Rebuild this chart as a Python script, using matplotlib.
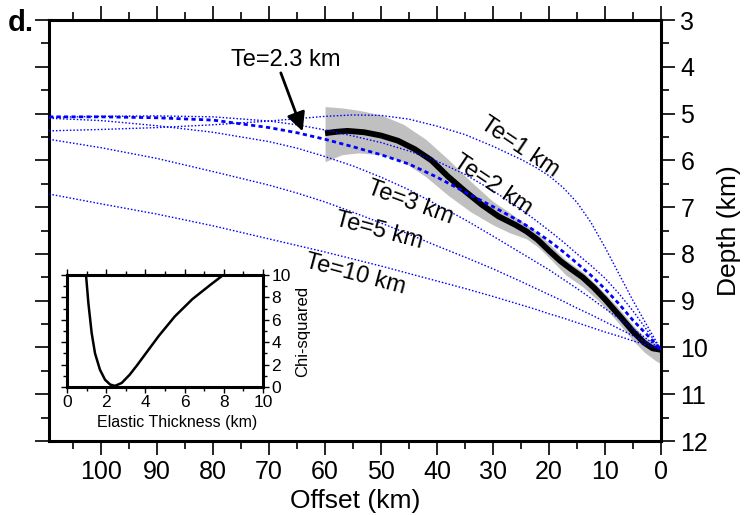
import matplotlib
matplotlib.use('Agg')
import matplotlib.pyplot as plt
from matplotlib.ticker import MultipleLocator

plt.rcParams['font.family'] = ['Liberation Sans', 'DejaVu Sans']

# ---------------- data ----------------
model_offset = [109.3, 100, 90, 80, 70, 65, 60, 55, 50, 45, 40, 35, 30, 25, 22.5, 20, 17.5, 15, 12.5, 10, 7.5, 5, 2.5, 0]
te1_depth = [5.37, 5.34, 5.30, 5.24, 5.16, 5.11, 5.06, 5.03, 5.04, 5.12, 5.27, 5.45, 5.70, 5.98, 6.14, 6.33, 6.58, 6.90, 7.33, 7.86, 8.43, 9.00, 9.53, 10.05]
te2_depth = [5.08, 5.06, 5.05, 5.07, 5.16, 5.24, 5.35, 5.48, 5.62, 5.80, 6.02, 6.30, 6.65, 7.05, 7.27, 7.50, 7.74, 8.00, 8.25, 8.52, 8.85, 9.22, 9.63, 10.05]
te23_depth = [5.07, 5.07, 5.09, 5.14, 5.30, 5.41, 5.55, 5.71, 5.88, 6.08, 6.36, 6.68, 6.99, 7.32, 7.51, 7.72, 7.95, 8.20, 8.46, 8.75, 9.07, 9.42, 9.73, 10.05]
te3_depth = [5.10, 5.15, 5.26, 5.40, 5.60, 5.74, 5.92, 6.12, 6.36, 6.63, 6.95, 7.27, 7.62, 7.98, 8.16, 8.34, 8.54, 8.74, 8.95, 9.17, 9.38, 9.60, 9.82, 10.05]
te5_depth = [5.55, 5.73, 5.96, 6.24, 6.53, 6.70, 6.89, 7.11, 7.34, 7.58, 7.83, 8.07, 8.32, 8.59, 8.73, 8.87, 9.01, 9.16, 9.30, 9.45, 9.60, 9.75, 9.90, 10.05]
te10_depth = [6.72, 6.93, 7.15, 7.40, 7.68, 7.82, 7.96, 8.11, 8.26, 8.42, 8.58, 8.74, 8.91, 9.09, 9.18, 9.28, 9.37, 9.47, 9.57, 9.67, 9.76, 9.86, 9.95, 10.05]

obs_offset = [60, 58, 56, 53, 50, 47, 44, 41, 38, 35, 32, 29, 26, 24, 22, 20, 18, 16, 14, 12, 10, 7, 5, 3, 1.5, 0]
obs_depth = [5.42, 5.39, 5.37, 5.40, 5.47, 5.58, 5.76, 6.00, 6.35, 6.66, 6.95, 7.20, 7.38, 7.52, 7.70, 7.93, 8.15, 8.33, 8.50, 8.72, 8.97, 9.38, 9.66, 9.90, 10.02, 10.05]

gray_offset = [60, 57, 54, 50, 46, 42, 38, 34, 30, 27, 24, 22, 20, 17, 14, 11, 8, 5, 3, 1, 0]
gray_top = [4.85, 4.88, 4.93, 5.03, 5.23, 5.55, 5.98, 6.45, 6.88, 7.12, 7.38, 7.55, 7.78, 8.13, 8.38, 8.72, 9.10, 9.52, 9.78, 9.92, 9.95]
gray_bottom = [6.03, 5.88, 5.84, 5.88, 6.03, 6.35, 6.75, 7.10, 7.38, 7.55, 7.68, 7.85, 8.08, 8.45, 8.70, 9.02, 9.42, 9.85, 10.10, 10.28, 10.35]

inset_te = [0.97, 1.09, 1.26, 1.43, 1.68, 1.94, 2.2, 2.45, 2.79, 3.2, 3.6, 4.0, 4.7, 5.5, 6.4, 7.3, 7.97]
inset_chi = [10.0, 7.5, 4.8, 3.0, 1.55, 0.65, 0.22, 0.10, 0.36, 1.1, 2.0, 2.95, 4.6, 6.3, 7.85, 9.1, 10.0]

x_ticks = [100, 90, 80, 70, 60, 50, 40, 30, 20, 10, 0]
y_ticks = [3, 4, 5, 6, 7, 8, 9, 10, 11, 12]
inset_ticks = [0, 2, 4, 6, 8, 10]

# ---------------- figure ----------------
W, H = 747, 515
fig = plt.figure(figsize=(W / 100, H / 100), dpi=100)
ax = fig.add_axes([49 / W, 1 - 441 / H, 612 / W, 421 / H])
ax.set_xlim(109.3, 0)
ax.set_ylim(12, 3)

blue = '#0000ff'
ax.fill_between(gray_offset, gray_top, gray_bottom, color='#c0c0c0', lw=0, zorder=1)
ax.plot(obs_offset, obs_depth, color='black', lw=4.2, solid_capstyle='butt', zorder=2)
for d in [te1_depth, te2_depth, te3_depth, te5_depth, te10_depth]:
    ax.plot(model_offset, d, color=blue, lw=1.0, ls=(0, (1.1, 1.4)), zorder=3)
ax.plot(model_offset, te23_depth, color=blue, lw=2.0, ls=(0, (1.5, 1.2)), zorder=3)

# labels on curves
lab_kw = dict(fontsize=17, ha='center', va='center', rotation_mode='anchor', zorder=5)
ax.text(25.2, 5.71, 'Te=1 km', rotation=-34, **lab_kw)
ax.text(30.0, 6.53, 'Te=2 km', rotation=-34, **lab_kw)
ax.text(44.8, 6.91, 'Te=3 km', rotation=-20, **lab_kw)
ax.text(50.4, 7.51, 'Te=5 km', rotation=-15, **lab_kw)
ax.text(54.6, 8.45, 'Te=10 km', rotation=-15, **lab_kw)
ax.text(67.1, 3.85, 'Te=2.3 km', fontsize=17, ha='center', va='center', zorder=5)
ax.annotate('', xy=(64.0, 5.38), xytext=(67.9, 4.13),
            arrowprops=dict(arrowstyle='-|>', color='black', lw=2.0, mutation_scale=28,
                            shrinkA=0, shrinkB=0), zorder=5)

# axes styling
for s in ax.spines.values():
    s.set_linewidth(2.2)
ax.xaxis.set_minor_locator(MultipleLocator(5))
ax.yaxis.set_minor_locator(MultipleLocator(0.5))
ax.set_xticks(x_ticks)
ax.set_yticks(y_ticks)
ax.tick_params(which='both', direction='out', top=True, bottom=True, left=True, right=True,
               labelleft=False, labelright=True, labelbottom=True, labeltop=False, width=1.2)
ax.tick_params(which='major', length=10, labelsize=18, pad=4)
ax.tick_params(which='minor', length=5.5)
ax.set_xlabel('Offset (km)', fontsize=19, labelpad=3)
ax.yaxis.set_label_position('right')
ax.set_ylabel('Depth (km)', fontsize=19, labelpad=6)

fig.text(8 / W, 1 - 9 / H, 'd.', fontsize=21, fontweight='bold', ha='left', va='top')

# ---------------- inset ----------------
axi = fig.add_axes([67 / W, 1 - 387 / H, 196 / W, 112 / H], zorder=10)
axi.set_facecolor('white')
axi.plot(inset_te, inset_chi, color='black', lw=1.8, clip_on=True)
axi.set_xlim(0, 10)
axi.set_ylim(0, 10)
for s in axi.spines.values():
    s.set_linewidth(2.2)
axi.set_xticks(inset_ticks)
axi.set_yticks(inset_ticks)
axi.xaxis.set_minor_locator(MultipleLocator(1))
axi.yaxis.set_minor_locator(MultipleLocator(1))
axi.tick_params(which='both', direction='out', top=True, bottom=True, left=True, right=True,
                labelleft=False, labelright=True, labelbottom=True, labeltop=False, width=1.0)
axi.tick_params(which='major', length=4, labelsize=12.5, pad=2)
axi.tick_params(which='minor', length=3)
axi.set_xlabel('Elastic Thickness (km)', fontsize=11.5)
axi.xaxis.set_label_coords(0.56, -0.25)
axi.yaxis.set_label_position('right')
axi.set_ylabel('Chi-squared', fontsize=12, labelpad=3)

fig.savefig('out.png', dpi=100)
